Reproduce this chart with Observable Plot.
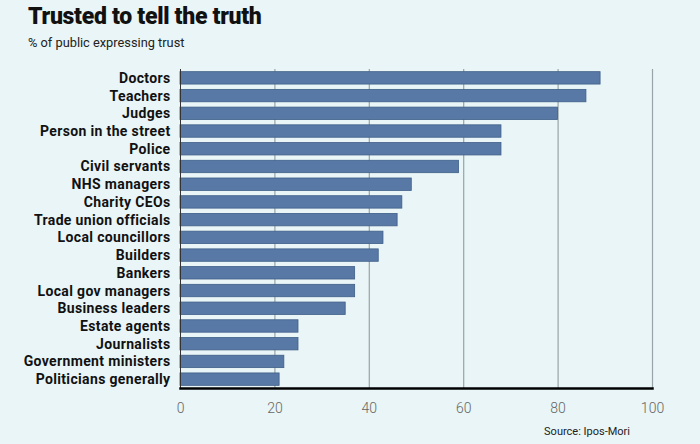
<!DOCTYPE html>
<html>
<head>
<meta charset="utf-8">
<script src="https://cdn.jsdelivr.net/npm/d3@7"></script>
<script src="https://cdn.jsdelivr.net/npm/@observablehq/plot@0.6"></script>
<style>
  html, body { margin: 0; padding: 0; background: #e9f5f6; }
  #wrap { width: 700px; height: 444px; position: relative; background: #e9f5f6; font-family: Roboto, "Noto Sans", sans-serif; }
  #title { position: absolute; left: 28px; top: 3px; font-size: 23px; font-weight: 900; color: #111; letter-spacing: -0.3px; }
  #subtitle { position: absolute; left: 28px; top: 35px; font-size: 12.8px; color: #222; }
  #chart { position: absolute; left: 0; top: 56px; }
  #source { position: absolute; right: 70px; top: 425px; font-size: 11px; color: #222; }
  #chart svg g[aria-label="y-axis tick label"] text { letter-spacing: 0.35px; }
</style>
</head>
<body>
<div id="wrap">
  <div id="title">Trusted to tell the truth</div>
  <div id="subtitle">% of public expressing trust</div>
  <div id="chart"></div>
  <div id="source">Source: Ipos-Mori</div>
</div>
<script>
const categories = ["Doctors","Teachers","Judges","Person in the street","Police","Civil servants","NHS managers","Charity CEOs","Trade union officials","Local councillors","Builders","Bankers","Local gov managers","Business leaders","Estate agents","Journalists","Government ministers","Politicians generally"];
const trust = [89,86,80,68,68,59,49,47,46,43,42,37,37,35,25,25,22,21];
const xTicks = [0,20,40,60,80,100];

const data = categories.map((c, i) => ({name: c, value: trust[i]}));

const chart = Plot.plot({
  width: 700,
  height: 364,
  marginTop: 13,
  marginBottom: 32,
  marginLeft: 180,
  marginRight: 48,
  style: {background: "transparent", fontFamily: "Roboto, 'Noto Sans', sans-serif"},
  x: {domain: [0, 100], ticks: xTicks, label: null},
  y: {domain: categories, label: null, paddingInner: 0.3, paddingOuter: 0.15, round: false},
  marks: [
    Plot.gridX(xTicks.slice(1), {stroke: "#98a4a7", strokeOpacity: 1, strokeWidth: 1.2}),
    Plot.barX(data, {x: "value", y: "name", fill: "#5878a6", stroke: "#3f5f88", strokeWidth: 0.8}),
    Plot.ruleX([0], {stroke: "#333", strokeWidth: 1}),
    Plot.frame({anchor: "bottom", stroke: "#000", strokeWidth: 2.5}),
    Plot.axisX({ticks: xTicks, tickSize: 0, tickPadding: 15, fontSize: 14, fontWeight: 300, fill: "#666", label: null}),
    Plot.axisY({tickSize: 0, tickPadding: 10, fontSize: 14, fontWeight: 700, fill: "#111", label: null})
  ]
});
document.getElementById("chart").appendChild(chart);
</script>
</body>
</html>
